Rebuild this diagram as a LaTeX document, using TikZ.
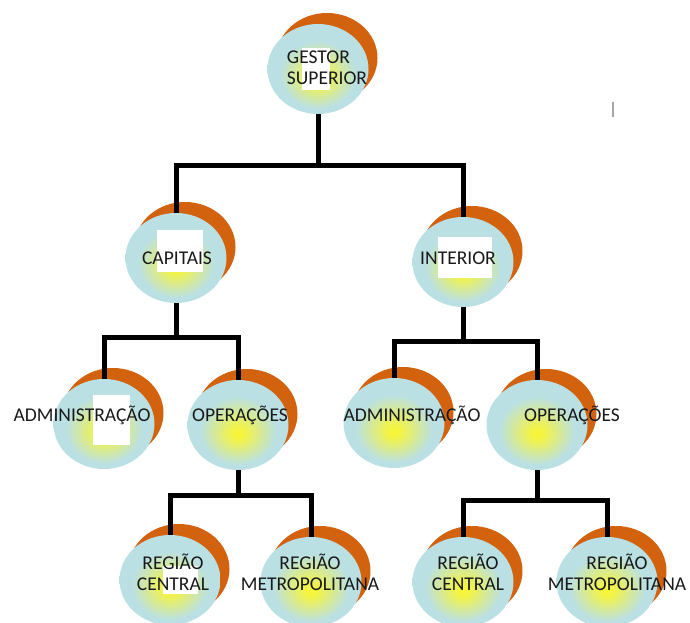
\documentclass[tikz,border=0pt]{standalone}
\usepackage{fontspec}
\setmainfont{Carlito}
\usetikzlibrary{shapes.geometric}
\usetikzlibrary{shadows}

\definecolor{azulbola}{RGB}{186,224,228}
\definecolor{amarelobola}{RGB}{250,246,50}
\definecolor{laranja}{RGB}{210,98,14}

\pgfdeclareradialshading{bolaazul}{\pgfpoint{0bp}{-5bp}}{%
    color(0bp)=(amarelobola);
    color(4bp)=(amarelobola!85!azulbola);
    color(19bp)=(azulbola);
    color(50bp)=(azulbola)}

\begin{document}
\begin{tikzpicture}[
            x=1pt, y=-1pt,
            bola/.style={
                ellipse,
                minimum width=101pt,
                minimum height=90pt,
                inner sep=0pt,
                shading=bolaazul,
                general shadow={fill=laranja, shadow xshift=9pt, shadow yshift=11pt}
            },
            texto/.style={
                align=center,
                inner sep=0pt,
                text=black!90,
                font=\fontsize{19.5}{21}\selectfont
            },
            caixa/.style={fill=white},
            conector/.style={line width=5pt}
        ]
        \useasboundingbox (0,0) rectangle (690,623);

        \node[bola] (gestor) at (318,69) {};

        \node[bola] (capitais) at (176,258) {};
        \node[bola] (interior) at (463,262) {};

        \node[bola] (adm cap) at (104,424) {};
        \node[bola] (op cap) at (238,425) {};
        \node[bola] (adm int) at (394,423) {};
        \node[bola] (op int) at (537,425) {};

        \node[bola] (central cap) at (170,580) {};
        \node[bola] (metro cap) at (311,582) {};
        \node[bola] (central int) at (463,582) {};
        \node[bola] (metro int) at (607,582) {};

        % fundos brancos
        \fill[caixa] (302,48) rectangle (330,90);
        \fill[caixa] (157,230) rectangle (203,272);
        \fill[caixa] (438,237) rectangle (492,278);
        \fill[caixa] (93,395) rectangle (130,445);
        \fill[caixa] (163,566) rectangle (198,594);

        \node[texto, align=left] (txt gestor) at (327,68) {GESTOR\\SUPERIOR};
        \node[texto] (txt capitais) at (177,258) {CAPITAIS};
        \node[texto] (txt interior) at (458,258) {INTERIOR};
        \node[texto] (txt adm cap) at (82,415) {ADMINISTRAÇÃO};
        \node[texto] (txt op cap) at (240,415) {OPERAÇÕES};
        \node[texto] (txt adm int) at (412,415) {ADMINISTRAÇÃO};
        \node[texto] (txt op int) at (572,415) {OPERAÇÕES};
        \node[texto] (txt central cap) at (173,572) {REGIÃO\\CENTRAL};
        \node[texto] (txt metro cap) at (310,572) {REGIÃO\\METROPOLITANA};
        \node[texto] (txt central int) at (468,572) {REGIÃO\\CENTRAL};
        \node[texto] (txt metro int) at (617,572) {REGIÃO\\METROPOLITANA};

        \coordinate (juncao gestor) at (318,165);
        \coordinate (juncao capitais) at (176,337);
        \coordinate (juncao interior) at (463,341);
        \coordinate (juncao op cap) at (238,495);
        \coordinate (juncao op int) at (537,500);

        \draw[conector] (gestor) -- (juncao gestor);
        \draw[conector] (capitais) |- (juncao gestor) -| (interior);

        \draw[conector] (capitais) -- (juncao capitais);
        \draw[conector] (adm cap) |- (juncao capitais) -| (op cap);

        \draw[conector] (interior) -- (juncao interior);
        \draw[conector] (adm int) |- (juncao interior) -| (op int);

        \draw[conector] (op cap) -- (juncao op cap);
        \draw[conector] (central cap) |- (juncao op cap) -| (metro cap);

        \draw[conector] (op int) -- (juncao op int);
        \draw[conector] (central int) |- (juncao op int) -| (metro int);

        \draw[gray!70, line width=1.2pt] (613,102) -- (613,117);

    \end{tikzpicture}
\end{document}
